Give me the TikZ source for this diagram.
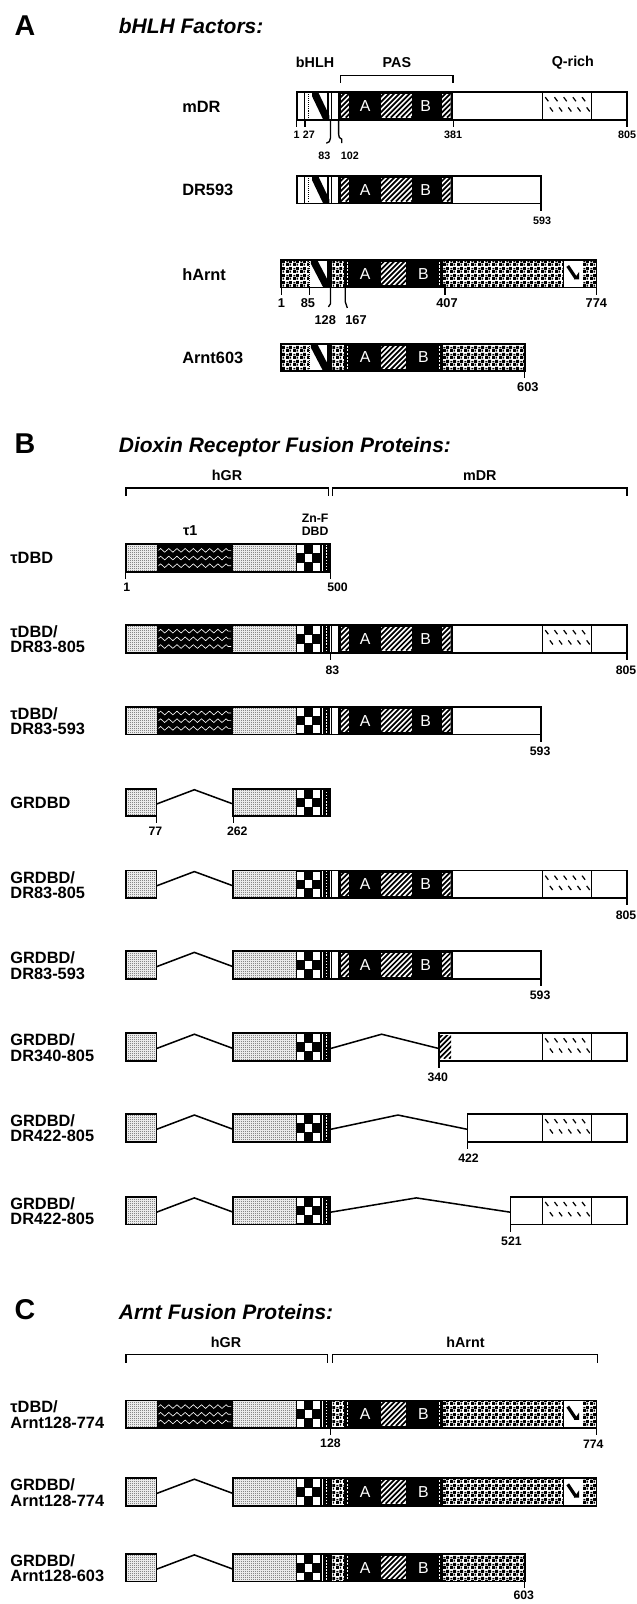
\documentclass[tikz,border=0pt]{standalone}
\usepackage{fontspec}
\setmainfont{Liberation Sans}
\usetikzlibrary{patterns,decorations.pathmorphing}

\pgfdeclarepatternformonly{stip}{\pgfpointorigin}{\pgfqpoint{2pt}{2pt}}{\pgfqpoint{2pt}{2pt}}{%
  \pgfpathrectangle{\pgfpointorigin}{\pgfqpoint{0.9pt}{0.9pt}}\pgfusepath{fill}}
\pgfdeclarepatternformonly{speck}{\pgfpointorigin}{\pgfqpoint{7pt}{7pt}}{\pgfqpoint{7pt}{7pt}}{%
  \pgfpathrectangle{\pgfqpoint{0pt}{0pt}}{\pgfqpoint{3pt}{3pt}}%
  \pgfpathrectangle{\pgfqpoint{3.5pt}{3.5pt}}{\pgfqpoint{3pt}{3pt}}%
  \pgfpathrectangle{\pgfqpoint{4pt}{0.5pt}}{\pgfqpoint{1.5pt}{2pt}}%
  \pgfpathrectangle{\pgfqpoint{0.5pt}{4pt}}{\pgfqpoint{2pt}{1.5pt}}%
  \pgfusepath{fill}}

\newcommand\fLet{\fontsize{28}{28}\selectfont\bfseries}
\newcommand\fHead{\fontsize{20.5}{22}\selectfont\bfseries\itshape}
\newcommand\fRow{\fontsize{16}{15}\selectfont\bfseries}
\newcommand\fSub{\fontsize{14}{14}\selectfont\bfseries}
\newcommand\fNa{\fontsize{10.5}{11}\selectfont\bfseries}
\newcommand\fNb{\fontsize{12}{13}\selectfont\bfseries}
\newcommand\fNc{\fontsize{12.5}{13}\selectfont\bfseries}
\newcommand\fPas{\fontsize{15.5}{15.5}\selectfont}

\newcommand\Hatch[2]{%
  \begin{scope}
    \clip (#1,2) rectangle (#2,25);
    \fill[white] (#1,2) rectangle (#2,25);
    \foreach \kk in {-25,-20,...,40}{\draw[line width=1.7pt] (#1+\kk,25) -- ++(26,-26);}
  \end{scope}}
\newcommand\GreySeg[2]{\fill[black!8] (#1,0) rectangle (#2,27);\fill[pattern=stip] (#1,0) rectangle (#2,27);}
\newcommand\TauSeg[2]{%
  \fill (#1,0) rectangle (#2,27);
  \foreach \yy in {6,13.5,21}{\draw[white,line width=.6pt,decorate,decoration={zigzag,segment length=8pt,amplitude=1.8pt}] (#1+2,\yy) -- (#2-2,\yy);}}
\newcommand\ZincSeg{%
  \fill (289,0) rectangle (323,27);
  \foreach \cc/\rr in {0/0,2/0,1/1,0/2,2/2}{\fill[white] (290+\cc*7.8,1+\rr*8.6) rectangle ++(7,7.8);}
  \draw[white,line width=1pt] (315.5,0) -- (315.5,27);
  \draw[white,line width=1pt,dash pattern=on 1.5pt off 1.5pt] (319.5,0) -- (319.5,27);}
\newcommand\DRpart[1]{%
  \fill[white] (323,0) rectangle (331,27);
  \draw[line width=1.2pt] (324,0) -- (324,27);
  \fill (330.5,0) rectangle (443,27);
  \Hatch{333}{341}
  \node[paslet] at (357,13.5) {A};
  \Hatch{372}{403}
  \node[paslet] at (416,13.5) {B};
  \Hatch{432}{440.5}
  \fill[white] (443,0) rectangle (#1,27);}
\newcommand\QRich{%
  \draw[line width=1pt] (530,0) -- (530,27) (578,0) -- (578,27);
  \foreach \ii in {0,...,4}{\foreach \jj/\oo in {0/0,1/4.5}{\draw[line width=1.2pt] (533+\ii*9+\oo,5+\jj*10) -- ++(3,4);}}}
\newcommand\NBox[2]{%
  \fill[white] (#1,0) rectangle (#2,27);
  \fill (#1,0) -- (#1+6,0) -- (#2,23) -- (#2,27) -- (#2-6,27) -- (#1,4) -- cycle;
  \fill (#2-2,0) rectangle (#2,27);}
\newcommand\ArntPart[1]{%
  \fill (322,0) rectangle (324.5,27);
  \fill[white] (324.5,0) rectangle (336.5,27);
  \fill[pattern=speck] (324.5,0) rectangle (336.5,27);
  \fill (336.5,0) rectangle (433,27);
  \draw[white,line width=1pt,dash pattern=on 2pt off 1.5pt] (339.5,2) -- (339.5,25);
  \node[paslet] at (357,13.5) {A};
  \Hatch{372}{397}
  \node[paslet] at (414,13.5) {B};
  \draw[white,line width=1pt,dash pattern=on 2pt off 1.5pt] (430,2) -- (430,25);
  \fill[white] (433,0) rectangle (#1,27);
  \fill[pattern=speck] (433,0) rectangle (#1,27);}
\newcommand\ArntEnd{%
  \fill[white] (551,0) rectangle (569,27);
  \draw[line width=1pt] (551,0) -- (551,27);
  \draw[line width=3.2pt] (555,6) -- (563,18);
  \fill (561,19) -- (566,12) -- (566,19) -- cycle;}
\newcommand\DRstart{%
  \fill[white] (290,0) rectangle (305,27);
  \draw[line width=1pt] (298,0) -- (298,27);
  \draw[line width=1pt,dash pattern=on 1pt off 1pt] (302,0) -- (302,27);
  \NBox{305}{322}}
\newcommand\ArntStart{%
  \fill[white] (275,0) rectangle (304,27);
  \fill[pattern=speck] (275,0) rectangle (302,27);
  \draw[line width=1pt,dash pattern=on 1pt off 1pt] (302.5,0) -- (302.5,27);
  \NBox{304}{322}}
\newcommand\HGRfull{\GreySeg{123}{153}\TauSeg{153}{228}\GreySeg{228}{289}\ZincSeg}
\newcommand\HGRdbd{%
  \GreySeg{123}{153}\draw[barline] (123,0) rectangle (153,27);
  \draw[conn] (153,15) -- (190,1) -- (228,15);
  \GreySeg{228}{289}\ZincSeg}

\begin{document}
\begin{tikzpicture}[x=1pt,y=-1pt,every node/.style={inner sep=0pt},
  barline/.style={line width=1.7pt},
  tk/.style={line width=1.3pt},
  conn/.style={line width=1.5pt,line join=miter},
  brk/.style={line width=1.5pt},
  paslet/.style={text=white,font=\fPas},
  rowlab/.style={font=\fRow,anchor=west,align=left}]
\useasboundingbox (0,0) rectangle (622,1568);

% ---------------- A ----------------
\node[font=\fLet,anchor=west] (secA) at (14,25) {A};
\node[font=\fHead,anchor=west] (headA) at (116,25) {bHLH Factors:};
\node[font=\fSub] (lbhlh) at (308,61) {bHLH};
\node[font=\fSub] (lpas) at (388,61) {PAS};
\node[font=\fSub] (lq) at (560,61) {Q-rich};
\draw[brk] (333,81) -- (333,74) -- (443,74) -- (443,81);

\node[rowlab] (mdr) at (178,104) {mDR};
\begin{scope}[shift={(0,90)}]
  \DRstart
  \DRpart{613}
  \QRich
  \draw[barline] (290,0) rectangle (613,27);
  \draw[tk] (290,27) -- (290,34) (298,27) -- (298,34) (443,27) -- (443,34) (613,27) -- (613,34);
  \draw[tk] (323,27) -- (323,45) to[out=-90,in=0] (319,50);
  \draw[tk] (331,27) -- (331,41) to[out=-90,in=180] (334,46) -- (334,50);
  \node[font=\fNa] (m1) at (290,42) {1};
  \node[font=\fNa] (m27) at (302,42) {27};
  \node[font=\fNa] (m381) at (443,42) {381};
  \node[font=\fNa] (m805) at (613,42) {805};
  \node[font=\fNa] (m83) at (317,62) {83};
  \node[font=\fNa] (m102) at (342,62) {102};
\end{scope}

\node[rowlab] (dr593) at (178,186) {DR593};
\begin{scope}[shift={(0,172)}]
  \DRstart
  \DRpart{529}
  \draw[barline] (290,0) rectangle (529,27);
  \draw[tk] (529,27) -- (529,34);
  \node[font=\fNa] (d593) at (530,44) {593};
\end{scope}

\node[rowlab] (harnt) at (178,268) {hArnt};
\begin{scope}[shift={(0,254)}]
  \ArntStart
  \ArntPart{583}
  \ArntEnd
  \draw[barline] (275,0) rectangle (583,27);
  \draw[tk] (275,27) -- (275,34) (302.5,27) -- (302.5,34) (435,27) -- (435,34) (583,27) -- (583,34);
  \draw[tk] (323,27) -- (323,43) -- (321,46);
  \draw[tk] (337.5,27) -- (337.5,41) to[out=-90,in=90] (339.5,47);
  \node[font=\fNc] (h1) at (275,42) {1};
  \node[font=\fNc] (h85) at (301,42) {85};
  \node[font=\fNc] (h407) at (437,42) {407};
  \node[font=\fNc] (h774) at (583,42) {774};
  \node[font=\fNc] (h128) at (318,59) {128};
  \node[font=\fNc] (h167) at (348,59) {167};
\end{scope}

\node[rowlab] (arnt603) at (178,350) {Arnt603};
\begin{scope}[shift={(0,336)}]
  \ArntStart
  \ArntPart{513}
  \draw[barline] (275,0) rectangle (513,27);
  \draw[tk] (513,27) -- (513,34);
  \node[font=\fNc] (a603) at (516,42) {603};
\end{scope}

% ---------------- B ----------------
\node[font=\fLet,anchor=west] (secB) at (14,434) {B};
\node[font=\fHead,anchor=west] (headB) at (116,437) {Dioxin Receptor Fusion Proteins:};
\node[font=\fSub] (bhgr) at (222,465) {hGR};
\node[font=\fSub] (bmdr) at (469,465) {mDR};
\draw[brk] (123,485) -- (123,477) -- (321,477) -- (321,485);
\draw[brk] (325,485) -- (325,477) -- (613,477) -- (613,485);
\node[font=\fSub] (tau1) at (186,519) {τ1};
\node[font=\fNb,align=center] (znf) at (308,513) {Zn-F\\DBD};

\node[rowlab] (b1) at (10,545.5) {τDBD};
\begin{scope}[shift={(0,532)}]
  \HGRfull
  \draw[barline] (123,0) rectangle (323,27);
  \draw[tk] (123,27) -- (123,34) (323,27) -- (323,34);
  \node[font=\fNb] (b1n1) at (124,42) {1};
  \node[font=\fNb] (b1n2) at (330,42) {500};
\end{scope}

\node[rowlab] (b2) at (10,625) {τDBD/\\DR83-805};
\begin{scope}[shift={(0,611)}]
  \HGRfull
  \DRpart{613}
  \QRich
  \draw[barline] (123,0) rectangle (613,27);
  \draw[tk] (323,27) -- (323,34) (613,27) -- (613,34);
  \node[font=\fNb] (b2n1) at (325,44) {83};
  \node[font=\fNb] (b2n2) at (612,44) {805};
\end{scope}

\node[rowlab] (b3) at (10,705) {τDBD/\\DR83-593};
\begin{scope}[shift={(0,691)}]
  \HGRfull
  \DRpart{529}
  \draw[barline] (123,0) rectangle (529,27);
  \draw[tk] (529,27) -- (529,34);
  \node[font=\fNb] (b3n1) at (528,43) {593};
\end{scope}

\node[rowlab] (b4) at (10,785) {GRDBD};
\begin{scope}[shift={(0,771)}]
  \HGRdbd
  \draw[barline] (228,0) rectangle (323,27);
  \draw[tk] (153,27) -- (153,34) (228,27) -- (228,34);
  \node[font=\fNb] (b4n1) at (152,42) {77};
  \node[font=\fNb] (b4n2) at (232,42) {262};
\end{scope}

\node[rowlab] (b5) at (10,865) {GRDBD/\\DR83-805};
\begin{scope}[shift={(0,851)}]
  \HGRdbd
  \DRpart{613}
  \QRich
  \draw[barline] (228,0) rectangle (613,27);
  \draw[tk] (613,27) -- (613,34);
  \node[font=\fNb] (b5n1) at (612,44) {805};
\end{scope}

\node[rowlab] (b6) at (10,944) {GRDBD/\\DR83-593};
\begin{scope}[shift={(0,930)}]
  \HGRdbd
  \DRpart{529}
  \draw[barline] (228,0) rectangle (529,27);
  \draw[tk] (529,27) -- (529,34);
  \node[font=\fNb] (b6n1) at (528,43) {593};
\end{scope}

\node[rowlab] (b7) at (10,1024) {GRDBD/\\DR340-805};
\begin{scope}[shift={(0,1010)}]
  \HGRdbd
  \draw[barline] (228,0) rectangle (323,27);
  \draw[conn] (323,15) -- (373,1) -- (429,15);
  \fill[white] (429,0) rectangle (613,27);
  \Hatch{429}{441}
  \QRich
  \draw[barline] (429,0) rectangle (613,27);
  \draw[tk] (429,27) -- (429,34);
  \node[font=\fNb] (b7n1) at (428,43) {340};
\end{scope}

\node[rowlab] (b8) at (10,1103) {GRDBD/\\DR422-805};
\begin{scope}[shift={(0,1089)}]
  \HGRdbd
  \draw[barline] (228,0) rectangle (323,27);
  \draw[conn] (323,15) -- (389,1) -- (457,15);
  \fill[white] (457,0) rectangle (613,27);
  \QRich
  \draw[barline] (457,0) rectangle (613,27);
  \draw[tk] (457,27) -- (457,34);
  \node[font=\fNb] (b8n1) at (458,43) {422};
\end{scope}

\node[rowlab] (b9) at (10,1184) {GRDBD/\\DR422-805};
\begin{scope}[shift={(0,1170)}]
  \HGRdbd
  \draw[barline] (228,0) rectangle (323,27);
  \draw[conn] (323,15) -- (407,1) -- (499,15);
  \fill[white] (499,0) rectangle (613,27);
  \QRich
  \draw[barline] (499,0) rectangle (613,27);
  \draw[tk] (499,27) -- (499,34);
  \node[font=\fNb] (b9n1) at (500,43) {521};
\end{scope}

% ---------------- C ----------------
\node[font=\fLet,anchor=west] (secC) at (14,1280) {C};
\node[font=\fHead,anchor=west] (headC) at (116,1283) {Arnt Fusion Proteins:};
\node[font=\fSub] (chgr) at (221,1312) {hGR};
\node[font=\fSub] (charnt) at (455,1312) {hArnt};
\draw[brk] (123,1332) -- (123,1324) -- (320,1324) -- (320,1332);
\draw[brk] (325,1332) -- (325,1324) -- (584,1324) -- (584,1332);

\node[rowlab] (c1) at (10,1383) {τDBD/\\Arnt128-774};
\begin{scope}[shift={(0,1369)}]
  \HGRfull
  \ArntPart{583}
  \ArntEnd
  \draw[barline] (123,0) rectangle (583,27);
  \draw[tk] (323,27) -- (323,34) (583,27) -- (583,34);
  \node[font=\fNb] (c1n1) at (323,42) {128};
  \node[font=\fNb] (c1n2) at (580,43) {774};
\end{scope}

\node[rowlab] (c2) at (10,1459) {GRDBD/\\Arnt128-774};
\begin{scope}[shift={(0,1445)}]
  \HGRdbd
  \ArntPart{583}
  \ArntEnd
  \draw[barline] (228,0) rectangle (583,27);
\end{scope}

\node[rowlab] (c3) at (10,1533) {GRDBD/\\Arnt128-603};
\begin{scope}[shift={(0,1519)}]
  \HGRdbd
  \ArntPart{513}
  \draw[barline] (228,0) rectangle (513,27);
  \draw[tk] (513,27) -- (513,33);
  \node[font=\fNb] (c3n1) at (512,40) {603};
\end{scope}
\end{tikzpicture}
\end{document}
